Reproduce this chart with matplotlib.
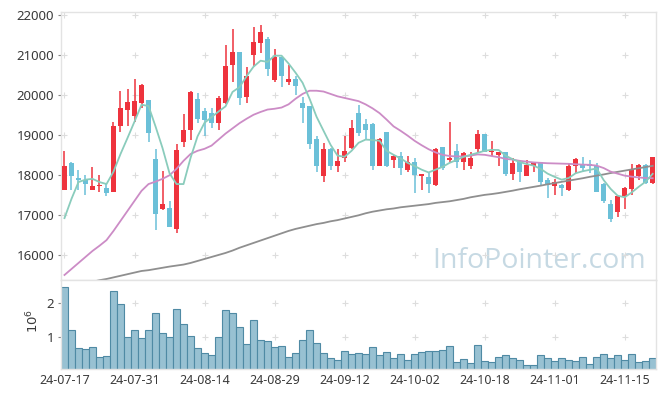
import numpy as np
import matplotlib
matplotlib.use('Agg')
import matplotlib.pyplot as plt

plt.rcParams['font.family'] = ['Noto Sans', 'DejaVu Sans']

# trading days (KRX), 2024-07-17 .. 2024-11-21
dates = (['24-07-%02d' % d for d in [17, 18, 19, 22, 23, 24, 25, 26, 29, 30, 31]]
         + ['24-08-%02d' % d for d in [1, 2, 5, 6, 7, 8, 9, 12, 13, 14, 16, 19, 20, 21, 22, 23, 26, 27, 28, 29, 30]]
         + ['24-09-%02d' % d for d in [2, 3, 4, 5, 6, 9, 10, 11, 12, 13, 19, 20, 23, 24, 25, 26, 27, 30]]
         + ['24-10-%02d' % d for d in [2, 4, 7, 8, 10, 11, 14, 15, 16, 17, 18, 21, 22, 23, 24, 25, 28, 29, 30, 31]]
         + ['24-11-%02d' % d for d in [1, 4, 5, 6, 7, 8, 11, 12, 13, 14, 15, 18, 19, 20, 21]])

open_ = [17630, 18290, 17920, 17860, 17630, 17710, 17680, 17580, 19210, 19630,
         19480, 19790, 19860, 18400, 17150, 17180, 16660, 18830, 19110, 19890,
         19600, 19540, 19290, 19790, 20730, 21060, 19940, 20980, 21290, 21400,
         20380, 20940, 20330, 20400, 19790, 19710, 18900, 17980, 18650, 18230,
         18430, 18680, 19540, 19280, 19280, 18230, 19070, 18360, 18480, 18130,
         18330, 17960, 17940, 17750, 18690, 18380, 18600, 18330, 18230, 18640,
         19020, 18570, 18500, 18560, 18030, 18310, 17980, 18230, 18310, 17860,
         17730, 17750, 17610, 18230, 18280, 18280, 18230, 17780, 17280, 17060,
         17480, 17650, 17980, 18250, 17790]
high = [18600, 18330, 18120, 18000, 18190, 18000, 17790, 19310, 20100, 20140,
        20390, 20260, 19870, 18640, 18100, 17340, 18770, 19520, 20100, 20040,
        19670, 19670, 19980, 21250, 21640, 21070, 20680, 21680, 21750, 21440,
        21140, 20950, 20730, 20460, 19940, 19720, 18980, 18790, 18660, 18650,
        18960, 19380, 19750, 19390, 19290, 18930, 19080, 18500, 18580, 18460,
        18420, 18030, 18040, 18660, 18700, 19320, 18770, 18580, 18580, 19130,
        19030, 18850, 18570, 18570, 18430, 18380, 18380, 18330, 18320, 17920,
        17890, 17760, 18290, 18410, 18440, 18380, 18290, 17790, 17360, 17490,
        17690, 18270, 18260, 18260, 18450]
low = [17620, 17620, 17620, 17500, 17620, 17580, 17460, 17570, 19060, 19210,
       19330, 19670, 18830, 16630, 17110, 16700, 16540, 18690, 18880, 19290,
       18980, 19170, 19130, 19780, 20330, 19750, 19790, 20710, 21040, 20460,
       20330, 20190, 20250, 20000, 19290, 18640, 18060, 17830, 18130, 18080,
       18330, 18650, 18960, 18880, 18130, 18220, 18200, 18170, 18000, 18080,
       17540, 17630, 17540, 17730, 18130, 18290, 18170, 18130, 18150, 18540,
       18560, 18480, 18210, 17960, 17860, 17830, 17970, 18070, 17710, 17420,
       17500, 17480, 17600, 18040, 18080, 18040, 17570, 17290, 16830, 16960,
       17150, 17500, 17880, 17770, 17770]
close = [18230, 17960, 17880, 17780, 17730, 17750, 17540, 19210, 19670, 19830,
         19850, 20250, 19040, 17020, 17280, 16710, 18630, 19130, 20060, 19400,
         19360, 19290, 19920, 20710, 21060, 19930, 20460, 21310, 21560, 20640,
         20940, 20480, 20400, 20230, 19680, 18780, 18230, 18650, 18230, 18350,
         18600, 19180, 19040, 19130, 18230, 18890, 18210, 18480, 18170, 18330,
         18000, 18020, 17780, 18650, 18170, 18420, 18320, 18540, 18420, 19020,
         18580, 18600, 18560, 18030, 18290, 18080, 18250, 18310, 17830, 17750,
         17810, 17680, 18230, 18400, 18180, 18210, 17580, 17350, 16890, 17480,
         17680, 18130, 18250, 17790, 18440]

ma5 = [16920, 17400, 17820, 17880, 17900, 17820, 17770, 18080, 18520, 18920,
       19330, 19750, 19720, 19210, 18670, 18040, 17770, 17770, 18420, 18960,
       19300, 19440, 19580, 19710, 20070, 20190, 20460, 20700, 20850, 20820,
       20975, 20975, 20780, 20550, 20300, 19900, 19450, 19100, 18750, 18480,
       18450, 18600, 18800, 18880, 18870, 18850, 18600, 18500, 18410, 18300,
       18220, 18130, 18060, 18130, 18200, 18300, 18370, 18450, 18500, 18550,
       18600, 18625, 18620, 18480, 18390, 18320, 18270, 18230, 18150, 18030,
       17950, 17880, 17920, 18040, 18090, 18125, 18160, 17870, 17650, 17480,
       17440, 17560, 17700, 17830, 18025]
ma20 = [15500, 15650, 15800, 15950, 16100, 16230, 16370, 16600, 16850, 17100,
        17350, 17600, 17770, 17830, 17900, 17990, 18150, 18350, 18520, 18600,
        18650, 18730, 18880, 19030, 19160, 19290, 19400, 19500, 19570, 19630,
        19650, 19680, 19760, 19900, 20020, 20100, 20100, 20080, 20020, 19960,
        19920, 19880, 19840, 19760, 19660, 19540, 19380, 19210, 19100, 18980,
        18850, 18740, 18640, 18560, 18500, 18470, 18460, 18460, 18480, 18510,
        18500, 18470, 18440, 18400, 18380, 18350, 18330, 18310, 18300, 18290,
        18285, 18280, 18275, 18265, 18255, 18250, 18230, 18170, 18080, 18030,
        17980, 17955, 17935, 17920, 17915]
ma60 = [15170, 15210, 15250, 15290, 15330, 15370, 15400, 15440, 15480, 15520,
        15560, 15600, 15620, 15650, 15680, 15710, 15735, 15760, 15800, 15850,
        15900, 15950, 16000, 16050, 16110, 16180, 16240, 16300, 16360, 16420,
        16480, 16540, 16600, 16650, 16690, 16730, 16770, 16800, 16840, 16870,
        16910, 16950, 16990, 17040, 17080, 17110, 17140, 17160, 17190, 17210,
        17230, 17250, 17270, 17300, 17320, 17340, 17370, 17400, 17440, 17470,
        17500, 17520, 17545, 17575, 17605, 17640, 17670, 17700, 17730, 17765,
        17795, 17825, 17855, 17885, 17915, 17950, 17980, 18010, 18045, 18075,
        18105, 18135, 18165, 18195, 18225]

# volume in millions of shares
volume = [2.44, 1.21, 0.68, 0.66, 0.71, 0.41, 0.45, 2.34, 1.95, 1.00,
          1.19, 0.97, 1.21, 1.71, 1.12, 1.00, 1.82, 1.39, 1.04, 0.68,
          0.53, 0.48, 1.00, 1.77, 1.71, 1.29, 0.80, 1.48, 0.92, 0.89,
          0.71, 0.74, 0.41, 0.53, 0.92, 1.21, 0.82, 0.53, 0.38, 0.33,
          0.60, 0.51, 0.53, 0.51, 0.71, 0.48, 0.57, 0.38, 0.51, 0.33,
          0.51, 0.57, 0.60, 0.60, 0.63, 0.74, 0.27, 0.35, 0.24, 0.77,
          0.30, 0.27, 0.41, 0.47, 0.38, 0.33, 0.18, 0.18, 0.47, 0.38,
          0.30, 0.38, 0.33, 0.30, 0.41, 0.21, 0.41, 0.51, 0.38, 0.47,
          0.33, 0.51, 0.27, 0.30, 0.38]

price_ticks = [16000, 17000, 18000, 19000, 20000, 21000, 22000]

UP = '#ee333d'
DOWN = '#6bc0d8'
SPINE = '#e3e3e3'
LABEL = '#3a3a3a'

x = np.arange(len(dates))
o = np.array(open_)
c = np.array(close)
cols = np.where(c >= o, UP, DOWN)

fig = plt.figure(figsize=(6.65, 3.98), dpi=100)
ax = fig.add_axes([0.0917, 0.2965, 0.895, 0.6735])
axv = fig.add_axes([0.0917, 0.0729, 0.895, 0.2236], sharex=ax)

# candles
ax.vlines(x, low, high, colors=cols, lw=1.1, zorder=2)
ax.bar(x, np.maximum(np.abs(c - o), 30), bottom=np.minimum(o, c), width=0.72,
       color=cols, lw=0, zorder=3)

# moving averages
ax.plot(x, ma60, color='#8f8f8f', lw=1.3, zorder=4)
ax.plot(x, ma20, color='#cc8cc6', lw=1.3, zorder=4)
ax.plot(x, ma5, color='#8accbc', lw=1.3, zorder=4)

ax.set_xlim(-0.5, len(x) - 0.5)
ax.set_ylim(15375, 22067)
ax.set_yticks(price_ticks)
ax.set_xticks(x[::10])
ax.tick_params(axis='x', labelbottom=False, length=0)
ax.tick_params(axis='y', length=2, color='#888888', labelsize=9.5, labelcolor=LABEL, pad=3)

# "+" marks at grid crossings
gx, gy = np.meshgrid(x[::10], price_ticks)
ax.scatter(gx.ravel(), gy.ravel(), marker='+', s=18, color='#dddddd', lw=0.8, zorder=1)

ax.text(0.983, 0.045, 'InfoPointer.com', transform=ax.transAxes, ha='right', va='baseline',
        fontsize=20.5, color='#c6d9e3', family=['Open Sans', 'DejaVu Sans'], zorder=0)

# volume
axv.bar(x, np.array(volume) * 1e6, width=1.0, color='#98c1d2', edgecolor='#4f8aa4', lw=0.8)
axv.set_ylim(0.068e6, 2.656e6)
axv.set_yticks([1e6, 2e6])
axv.set_yticklabels(['1', '2'])
axv.set_xticks(x[::10])
axv.set_xticklabels([dates[i] for i in x[::10]])
axv.tick_params(axis='x', length=0, labelsize=9, labelcolor=LABEL, pad=3.5)
axv.tick_params(axis='y', length=2, color='#888888', labelsize=9.5, labelcolor=LABEL, pad=3)
vx, vy = np.meshgrid(x[::10], [1e6, 2e6])
axv.scatter(vx.ravel(), vy.ravel(), marker='+', s=18, color='#dddddd', lw=0.8, zorder=0)
fig.text(33 / 665, 1 - 321 / 398, r'$10^6$', rotation=90, ha='center', va='center',
         fontsize=9.5, color=LABEL)

for a in (ax, axv):
    for s in a.spines.values():
        s.set_color(SPINE)
        s.set_linewidth(1)

fig.savefig('out.png', dpi=100)
